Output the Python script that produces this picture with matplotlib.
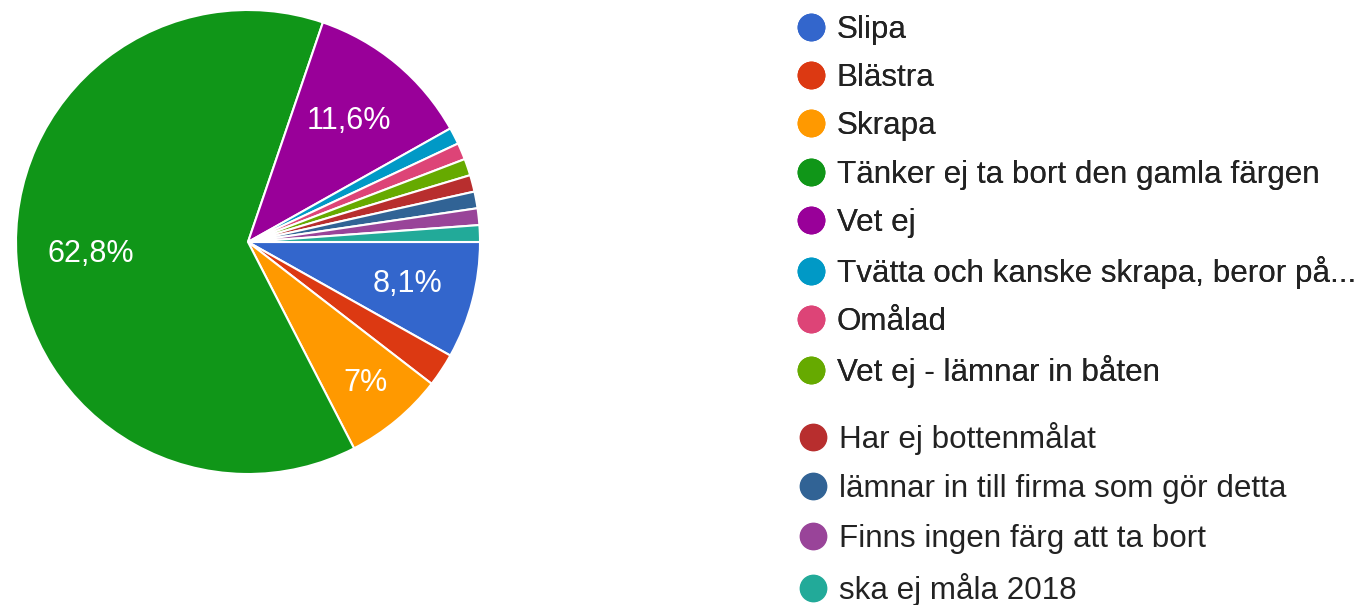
import matplotlib.pyplot as plt
from matplotlib.lines import Line2D
import numpy as np

plt.rcParams['font.family'] = ['Liberation Sans', 'DejaVu Sans']

labels = [
    'Slipa',
    'Blästra',
    'Skrapa',
    'Tänker ej ta bort den gamla färgen',
    'Vet ej',
    'Tvätta och kanske skrapa, beror på...',
    'Omålad',
    'Vet ej - lämnar in båten',
    'Har ej bottenmålat',
    'lämnar in till firma som gör detta',
    'Finns ingen färg att ta bort',
    'ska ej måla 2018',
]
counts = [7, 2, 6, 54, 10, 1, 1, 1, 1, 1, 1, 1]
colors = ['#3366cc', '#dc3912', '#ff9900', '#109618', '#990099', '#0099c6',
          '#dd4477', '#66aa00', '#b82e2e', '#316395', '#994499', '#22aa99']
pct_labels = ['8,1%', '', '7%', '62,8%', '11,6%', '', '', '', '', '', '', '']
label_dist = [0.71, 0, 0.79, 0.68, 0.68, 0, 0, 0, 0, 0, 0, 0]

W, H = 1365, 605
fig = plt.figure(figsize=(W / 100, H / 100), dpi=100)

cx, cy, r = 248, 242, 232
ax = fig.add_axes([(cx - r) / W, (H - cy - r) / H, 2 * r / W, 2 * r / H])
wedges, _ = ax.pie(counts, colors=colors, startangle=0, counterclock=False,
                   radius=1, wedgeprops=dict(edgecolor='white', linewidth=1.5))
ax.set_xlim(-1, 1)
ax.set_ylim(-1, 1)
ax.set_aspect('equal')
ax.axis('off')

# percentage labels inside the big slices
for w, txt, d in zip(wedges, pct_labels, label_dist):
    if not txt:
        continue
    ang = np.deg2rad((w.theta1 + w.theta2) / 2)
    ax.text(d * np.cos(ang), d * np.sin(ang), txt, color='white',
            fontsize=22, ha='center', va='center')

handles = [Line2D([], [], marker='o', linestyle='', markersize=19,
                  markerfacecolor=c, markeredgecolor=c) for c in colors]

fs = 22.6
leg1 = fig.legend(handles[:8], labels[:8], loc='upper left',
                  bbox_to_anchor=(795 / W, 1 - 15 / H), frameon=False,
                  fontsize=fs, borderpad=0, borderaxespad=0,
                  handlelength=1.0, handletextpad=0.33, labelspacing=0.58,
                  labelcolor='#222222')
fig.add_artist(leg1)
leg2 = fig.legend(handles[8:], labels[8:], loc='upper left',
                  bbox_to_anchor=(797 / W, 1 - 422 / H), frameon=False,
                  fontsize=fs, borderpad=0, borderaxespad=0,
                  handlelength=1.0, handletextpad=0.33, labelspacing=0.62,
                  labelcolor='#222222')

fig.savefig('out.png', dpi=100)
